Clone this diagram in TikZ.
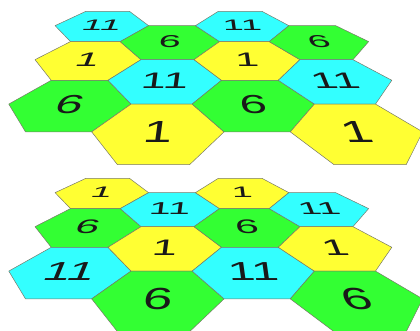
\documentclass[tikz,border=0pt]{standalone}
\usepackage{fontspec}
\setmainfont{Liberation Sans}

\definecolor{cellcyan}{RGB}{51,255,255}
\definecolor{cellyellow}{RGB}{255,255,51}
\definecolor{cellgreen}{RGB}{51,255,51}
\definecolor{celledge}{RGB}{120,120,105}

\tikzset{
  declare function={
    sx(\X,\d)=206+690*\X/(15.62-\d);
    sy(\d)=560-3772/(15.62-\d);
  },
  hexcell/.style={draw=celledge, line width=0.5pt, line join=round},
  hexlabel/.style={inner sep=0pt, text=black!90, transform shape,
                   font=\fontsize{10}{12}\selectfont},
}

% one cell of the tilted hexagon floor
% #1 name, #2 ground x, #3 depth level, #4 shift down, #5 colour, #6 label
\newcommand{\hexcell}[6]{%
  \pgfmathsetmacro\hX{#2}
  \pgfmathsetmacro\hD{0.866*#3}
  \pgfmathsetmacro\hZ{15.62-\hD}
  \filldraw[hexcell, fill=#5]
    ({sx(\hX+1,\hD)},{sy(\hD)-#4})
    -- ({sx(\hX+0.5,\hD+0.866)},{sy(\hD+0.866)-#4})
    -- ({sx(\hX-0.5,\hD+0.866)},{sy(\hD+0.866)-#4})
    -- ({sx(\hX-1,\hD)},{sy(\hD)-#4})
    -- ({sx(\hX-0.5,\hD-0.866)},{sy(\hD-0.866)-#4})
    -- ({sx(\hX+0.5,\hD-0.866)},{sy(\hD-0.866)-#4}) -- cycle;
  \pgfmathsetmacro\ca{0.08*690/\hZ}
  \pgfmathsetmacro\cc{-0.088*690*\hX/(\hZ*\hZ)}
  \pgfmathsetmacro\cd{0.088*3772/(\hZ*\hZ)}
  \pgfmathsetmacro\cx{sx(\hX,\hD)}
  \pgfmathsetmacro\cy{sy(\hD)-#4}
  \node[hexlabel, cm={\ca,0,\cc,\cd,(\cx,\cy)}] (#1) at (0,0) {#6};
}

\begin{document}
\begin{tikzpicture}[x=1pt, y=1pt]
\useasboundingbox (0,0) rectangle (420,330);
\clip (0,0) rectangle (420,330);

% upper floor
\foreach \n/\X/\lv/\col/\txt in {
    u1/-2.227/1/cellcyan/11,   u2/-2.227/3/cellyellow/1, u3/-2.227/5/cellgreen/6,
    u4/-0.727/2/cellgreen/6,   u5/-0.727/4/cellcyan/11,  u6/-0.727/6/cellyellow/1,
    u7/0.773/1/cellcyan/11,    u8/0.773/3/cellyellow/1,  u9/0.773/5/cellgreen/6,
    u10/2.273/2/cellgreen/6,   u11/2.273/4/cellcyan/11,  u12/2.273/6/cellyellow/1}
  {\hexcell{\n}{\X}{\lv}{0}{\col}{\txt}}

% lower floor
\foreach \n/\X/\lv/\col/\txt in {
    l1/-2.227/1/cellyellow/1,  l2/-2.227/3/cellgreen/6,  l3/-2.227/5/cellcyan/11,
    l4/-0.727/2/cellcyan/11,   l5/-0.727/4/cellyellow/1, l6/-0.727/6/cellgreen/6,
    l7/0.773/1/cellyellow/1,   l8/0.773/3/cellgreen/6,   l9/0.773/5/cellcyan/11,
    l10/2.273/2/cellcyan/11,   l11/2.273/4/cellyellow/1, l12/2.273/6/cellgreen/6}
  {\hexcell{\n}{\X}{\lv}{167}{\col}{\txt}}
\end{tikzpicture}
\end{document}
